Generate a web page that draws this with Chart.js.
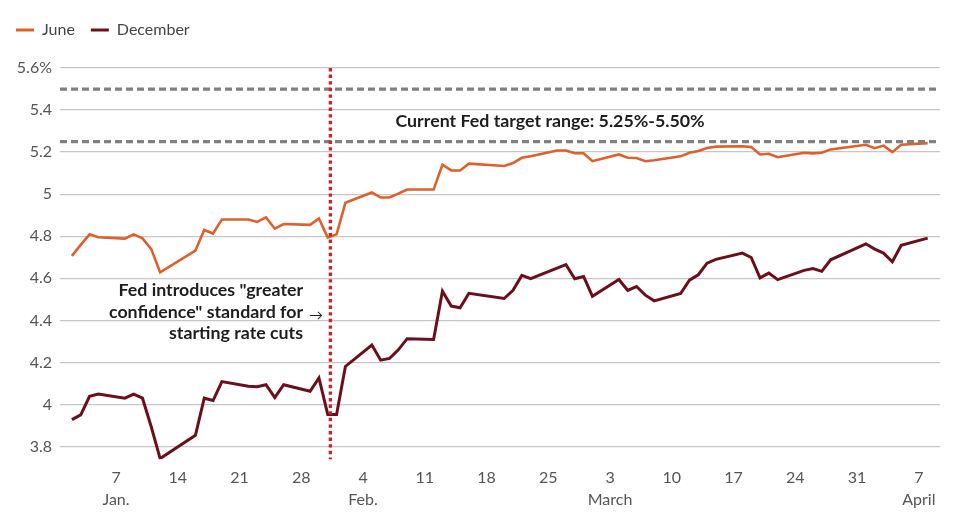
<!DOCTYPE html>
<html>
<head>
<meta charset="utf-8">
<script src="https://cdn.jsdelivr.net/npm/chart.js@4.4.1/dist/chart.umd.min.js"></script>
<style>
  html, body { margin: 0; padding: 0; background: #ffffff; }
  #wrap { width: 968px; height: 524px; position: relative; }
</style>
</head>
<body>
<div id="wrap"><canvas id="rates"></canvas></div>
<script>
// days counted from Jan 1 2024 (Jan 1 = 0), one entry per trading day
const tradingDays = [
  1, 2, 3, 4, 7, 8, 9, 10, 11, 15, 16, 17, 18, 21, 22, 23, 24, 25, 28, 29, 30,
  31, 32, 35, 36, 37, 38, 39, 42, 43, 44, 45, 46, 50, 51, 52, 53, 56, 57, 58, 59,
  60, 63, 64, 65, 66, 67, 70, 71, 72, 73, 74, 77, 78, 79, 80, 81, 84, 85, 86, 87,
  91, 92, 93, 94, 95, 98,
];

const juneRates = [
  4.707, 4.759, 4.809, 4.795, 4.789, 4.809, 4.79, 4.739, 4.628, 4.732, 4.83,
  4.813, 4.88, 4.88, 4.868, 4.89, 4.836, 4.858, 4.854, 4.885, 4.794,
  4.809, 4.959, 5.008, 4.984, 4.984, 5.003, 5.022, 5.022, 5.14, 5.113, 5.113,
  5.145, 5.134, 5.148, 5.173, 5.18, 5.208, 5.208, 5.195, 5.195,
  5.157, 5.189, 5.173, 5.172, 5.157, 5.161, 5.18, 5.197, 5.205, 5.22, 5.226,
  5.228, 5.224, 5.189, 5.192, 5.176, 5.197, 5.194, 5.197, 5.213,
  5.235, 5.219, 5.231, 5.2, 5.235, 5.243,
];

const decemberRates = [
  3.928, 3.951, 4.039, 4.05, 4.03, 4.049, 4.03, 3.893, 3.743, 3.854, 4.03,
  4.019, 4.109, 4.087, 4.085, 4.094, 4.033, 4.094, 4.063, 4.126, 3.953,
  3.953, 4.181, 4.283, 4.211, 4.219, 4.26, 4.313, 4.309, 4.539, 4.468, 4.46,
  4.529, 4.504, 4.543, 4.614, 4.598, 4.649, 4.665, 4.598, 4.609,
  4.515, 4.594, 4.543, 4.561, 4.52, 4.493, 4.528, 4.591, 4.617, 4.672, 4.69,
  4.72, 4.699, 4.602, 4.625, 4.594, 4.638, 4.646, 4.633, 4.688,
  4.764, 4.739, 4.72, 4.679, 4.757, 4.791,
];

const tickDays = [6, 13, 20, 27, 34, 41, 48, 55, 62, 69, 76, 83, 90, 97];
const tickLabels = ["7", "14", "21", "28", "4", "11", "18", "25", "3", "10", "17", "24", "31", "7"];
const monthLabels = ["Jan.", "", "", "", "Feb.", "", "", "", "March", "", "", "", "", "April"];
const yTicks = [3.8, 4, 4.2, 4.4, 4.6, 4.8, 5, 5.2, 5.4, 5.6];

const targetRange = [5.25, 5.5];
const fedMeetingDay = 30.3;
const rangeNote = "Current Fed target range: 5.25%-5.50%";
const fedNote = ['Fed introduces "greater', 'confidence" standard for', "starting rate cuts"];

const FONT = "Lato";
const juneColor = "#de602b";
const decColor = "#6a0f1b";

const annotations = {
  id: "annotations",
  afterDatasetsDraw(chart) {
    const { ctx, chartArea, scales } = chart;
    const x = scales.x;
    const y = scales.y;
    ctx.save();

    // target range lines
    ctx.strokeStyle = "#808080";
    ctx.lineWidth = 3.2;
    ctx.setLineDash([7, 4]);
    targetRange.forEach((v) => {
      const py = y.getPixelForValue(v);
      ctx.beginPath();
      ctx.moveTo(chartArea.left, py);
      ctx.lineTo(chartArea.right, py);
      ctx.stroke();
    });

    // fed meeting marker
    const fx = x.getPixelForValue(fedMeetingDay);
    ctx.strokeStyle = "#c3262f";
    ctx.lineWidth = 3.4;
    ctx.setLineDash([3.4, 3.2]);
    ctx.beginPath();
    ctx.moveTo(fx, chartArea.top);
    ctx.lineTo(fx, chartArea.bottom);
    ctx.stroke();
    ctx.setLineDash([]);

    // texts
    ctx.fillStyle = "#1e1e1e";
    ctx.font = "bold 17.8px " + FONT;
    ctx.textBaseline = "middle";
    ctx.textAlign = "center";
    ctx.fillText(rangeNote, x.getPixelForValue(55.2), y.getPixelForValue(5.345));

    ctx.textAlign = "right";
    const noteX = x.getPixelForValue(27.2);
    const noteY = y.getPixelForValue(4.542);
    fedNote.forEach((line, i) => {
      ctx.fillText(line, noteX, noteY + i * 21.5);
    });
    ctx.textAlign = "left";
    ctx.font = "14px " + FONT;
    ctx.fillText("\u2192", noteX + 6, noteY + 21.5 + 3);

    ctx.restore();
  },
};

const legendGap = {
  id: "legendGap",
  beforeInit(chart) {
    const fit = chart.legend.fit;
    chart.legend.fit = function () {
      fit.bind(chart.legend)();
      this.height += 20;
    };
  },
};

const ctx = document.getElementById("rates");

new Chart(ctx, {
  type: "line",
  data: {
    datasets: [
      {
        label: "June",
        data: tradingDays.map((d, i) => ({ x: d, y: juneRates[i] })),
        borderColor: juneColor,
        backgroundColor: juneColor,
        borderWidth: 2.6,
        pointRadius: 0,
        tension: 0,
      },
      {
        label: "December",
        data: tradingDays.map((d, i) => ({ x: d, y: decemberRates[i] })),
        borderColor: decColor,
        backgroundColor: decColor,
        borderWidth: 3,
        pointRadius: 0,
        tension: 0,
      },
    ],
  },
  options: {
    responsive: true,
    maintainAspectRatio: false,
    animation: false,
    layout: { padding: { top: 6, right: 28, bottom: 6, left: 0 } },
    plugins: {
      tooltip: { enabled: false },
      legend: {
        position: "top",
        align: "start",
        labels: {
          boxWidth: 18,
          boxHeight: 3,
          padding: 16,
          color: "#444444",
          font: { family: FONT, size: 16 },
          generateLabels(chart) {
            return chart.data.datasets.map((ds, i) => ({
              text: ds.label,
              fillStyle: ds.borderColor,
              strokeStyle: ds.borderColor,
              lineWidth: 0,
              fontColor: "#444444",
              datasetIndex: i,
            }));
          },
        },
      },
    },
    scales: {
      x: {
        type: "linear",
        min: -0.35,
        max: 99.4,
        afterBuildTicks(axis) {
          axis.ticks = tickDays.map((v) => ({ value: v }));
        },
        grid: { display: false, drawTicks: false },
        border: { display: false },
        ticks: {
          autoSkip: false,
          maxRotation: 0,
          padding: 7,
          color: "#555555",
          font: { family: FONT, size: 16, lineHeight: 1.4 },
          callback(value, index) {
            return [tickLabels[index], monthLabels[index]];
          },
        },
      },
      y: {
        min: 3.74,
        max: 5.6,
        afterBuildTicks(axis) {
          axis.ticks = yTicks.map((v) => ({ value: v }));
        },
        afterFit(axis) {
          axis.width = 60;
        },
        grid: { color: "#c6c6c6", lineWidth: 1.3, drawTicks: false },
        border: { display: false },
        ticks: {
          padding: 8,
          color: "#555555",
          font: { family: FONT, size: 16 },
          callback(value) {
            const label = Number(value.toFixed(1)).toString();
            return value === 5.6 ? label + "%" : label;
          },
        },
      },
    },
  },
  plugins: [annotations, legendGap],
});
</script>
</body>
</html>
